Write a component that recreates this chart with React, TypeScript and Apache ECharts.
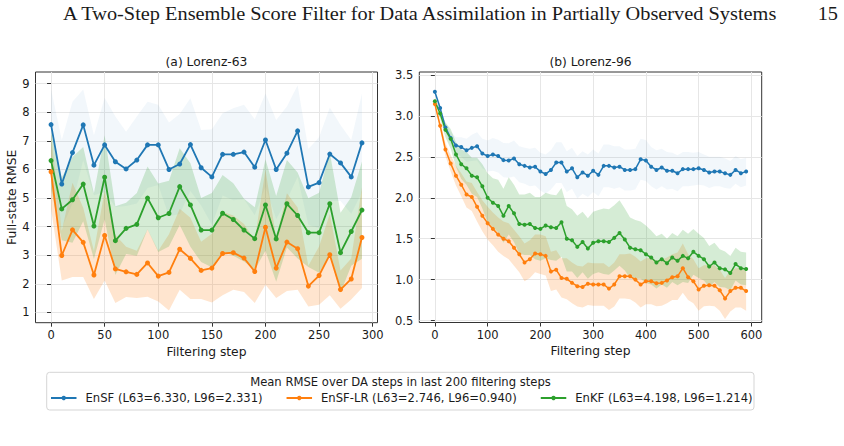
import React, { useEffect, useRef } from "react";
import * as echarts from "echarts";

// ---------- Lorenz-63 (30 filtering steps shown) ----------
const L63_STEPS = [0, 10, 20, 30, 40, 50, 60, 70, 80, 90, 100, 110, 120, 130, 140, 150, 160, 170, 180, 190, 200, 210, 220, 230, 240, 250, 260, 270, 280, 290];
const L63_ENSF = [7.57, 5.49, 6.59, 7.56, 6.15, 6.86, 6.27, 6.02, 6.33, 6.86, 6.86, 6.0, 6.19, 6.87, 6.06, 5.74, 6.53, 6.53, 6.61, 6.08, 7.03, 6.0, 6.57, 7.35, 5.39, 5.54, 6.54, 6.23, 5.74, 6.93];
const L63_ENSF_SD = [1.24, 1.54, 1.78, 1.24, 1.05, 1.65, 1.58, 1.3, 1.52, 1.51, 1.4, 1.64, 1.75, 1.62, 1.32, 1.67, 1.44, 1.61, 1.65, 1.68, 1.63, 1.73, 1.63, 1.6, 1.33, 1.59, 1.63, 1.33, 1.29, 1.73];
const L63_ENSFLR = [5.92, 2.99, 3.89, 3.45, 2.31, 3.69, 2.52, 2.42, 2.33, 2.73, 2.27, 2.4, 3.21, 2.89, 2.47, 2.55, 3.06, 3.09, 2.9, 2.43, 3.98, 2.55, 3.46, 3.23, 1.92, 2.29, 3.02, 1.8, 2.17, 3.62];
const L63_ENSFLR_SD = [1.3, 0.87, 1.65, 1.21, 0.84, 1.57, 1.19, 0.88, 0.83, 1.18, 0.89, 1.33, 1.42, 1.42, 1.0, 1.2, 1.46, 1.3, 1.19, 1.1, 2.01, 1.05, 1.71, 1.44, 0.71, 1.02, 1.42, 0.67, 0.72, 1.77];
const L63_ENKF = [6.31, 4.62, 4.94, 5.49, 4.02, 5.73, 3.51, 3.94, 4.08, 5.0, 4.31, 4.46, 5.4, 4.76, 3.88, 3.88, 4.47, 4.25, 3.88, 3.58, 4.76, 3.57, 4.8, 4.39, 3.79, 3.79, 4.8, 3.09, 3.83, 4.58];
const L63_ENKF_SD = [1.0, 1.1, 1.5, 1.3, 1.15, 1.47, 1.2, 0.9, 1.1, 1.1, 1.2, 1.15, 1.34, 1.46, 1.12, 1.3, 1.34, 1.27, 1.1, 1.1, 1.6, 1.5, 1.53, 1.5, 1.2, 1.4, 1.8, 1.4, 1.2, 1.7];

// ---------- Lorenz-96 (60 filtering steps shown) ----------
const L96_STEPS = [0, 10, 20, 30, 40, 50, 60, 70, 80, 90, 100, 110, 120, 130, 140, 150, 160, 170, 180, 190, 200, 210, 220, 230, 240, 250, 260, 270, 280, 290, 300, 310, 320, 330, 340, 350, 360, 370, 380, 390, 400, 410, 420, 430, 440, 450, 460, 470, 480, 490, 500, 510, 520, 530, 540, 550, 560, 570, 580, 590];
const L96_ENSF = [3.296, 3.096, 2.86, 2.73, 2.64, 2.62, 2.58, 2.61, 2.63, 2.54, 2.51, 2.53, 2.51, 2.46, 2.455, 2.48, 2.41, 2.39, 2.37, 2.38, 2.32, 2.29, 2.34, 2.43, 2.43, 2.32, 2.36, 2.25, 2.31, 2.27, 2.33, 2.28, 2.39, 2.39, 2.37, 2.38, 2.34, 2.34, 2.35, 2.47, 2.455, 2.38, 2.34, 2.37, 2.33, 2.33, 2.3, 2.35, 2.35, 2.35, 2.36, 2.34, 2.31, 2.32, 2.32, 2.3, 2.28, 2.34, 2.3, 2.32];
const L96_ENSF_SD = [0.02, 0.04, 0.06, 0.08, 0.1, 0.12, 0.14, 0.16, 0.17, 0.18, 0.19, 0.2, 0.2, 0.21, 0.21, 0.22, 0.22, 0.22, 0.23, 0.23, 0.23, 0.24, 0.24, 0.25, 0.25, 0.25, 0.25, 0.26, 0.26, 0.26, 0.26, 0.26, 0.26, 0.26, 0.26, 0.25, 0.25, 0.25, 0.25, 0.25, 0.25, 0.24, 0.24, 0.23, 0.23, 0.22, 0.22, 0.21, 0.21, 0.2, 0.2, 0.19, 0.19, 0.18, 0.18, 0.18, 0.17, 0.17, 0.17, 0.17];
const L96_ENSFLR = [3.145, 2.88, 2.59, 2.42, 2.27, 2.16, 2.04, 2.01, 1.89, 1.78, 1.69, 1.62, 1.55, 1.5, 1.47, 1.39, 1.31, 1.21, 1.25, 1.32, 1.31, 1.29, 1.1, 1.12, 1.02, 1.01, 0.96, 0.92, 0.91, 0.95, 0.94, 0.94, 0.94, 0.89, 0.94, 1.04, 1.04, 1.04, 1.0, 0.94, 0.98, 0.98, 0.955, 0.96, 0.99, 1.03, 1.04, 1.14, 1.03, 0.98, 0.88, 0.925, 0.93, 0.925, 0.87, 0.77, 0.86, 0.9, 0.9, 0.86];
const L96_ENSFLR_SD = [0.02, 0.05, 0.08, 0.1, 0.12, 0.14, 0.16, 0.17, 0.18, 0.19, 0.2, 0.2, 0.21, 0.21, 0.22, 0.22, 0.22, 0.23, 0.23, 0.23, 0.24, 0.24, 0.24, 0.24, 0.24, 0.25, 0.25, 0.25, 0.25, 0.26, 0.26, 0.26, 0.26, 0.26, 0.27, 0.27, 0.27, 0.28, 0.28, 0.28, 0.28, 0.28, 0.28, 0.28, 0.28, 0.28, 0.29, 0.3, 0.28, 0.27, 0.26, 0.25, 0.25, 0.25, 0.25, 0.25, 0.25, 0.24, 0.24, 0.24];
const L96_ENKF = [3.18, 3.03, 2.83, 2.72, 2.53, 2.41, 2.36, 2.27, 2.25, 2.14, 2.0, 1.94, 1.9, 1.78, 1.9, 1.81, 1.68, 1.67, 1.68, 1.63, 1.62, 1.66, 1.64, 1.63, 1.7, 1.5, 1.48, 1.4, 1.46, 1.38, 1.45, 1.47, 1.47, 1.46, 1.51, 1.57, 1.49, 1.39, 1.37, 1.36, 1.31, 1.27, 1.21, 1.25, 1.2, 1.27, 1.23, 1.29, 1.26, 1.34, 1.29, 1.25, 1.16, 1.21, 1.14, 1.125, 1.08, 1.19, 1.14, 1.13];
const L96_ENKF_SD = [0.03, 0.06, 0.09, 0.12, 0.15, 0.18, 0.2, 0.22, 0.24, 0.27, 0.3, 0.3, 0.32, 0.33, 0.35, 0.35, 0.36, 0.37, 0.38, 0.38, 0.39, 0.4, 0.4, 0.4, 0.42, 0.4, 0.38, 0.38, 0.37, 0.37, 0.38, 0.38, 0.4, 0.4, 0.4, 0.4, 0.38, 0.37, 0.36, 0.35, 0.35, 0.33, 0.32, 0.31, 0.3, 0.3, 0.3, 0.32, 0.3, 0.28, 0.27, 0.26, 0.25, 0.24, 0.23, 0.22, 0.21, 0.2, 0.2, 0.2];

// ---------- ticks, labels ----------
const L63_X_TICKS = [0, 50, 100, 150, 200, 250, 300];
const L63_Y_TICKS = [1, 2, 3, 4, 5, 6, 7, 8, 9];
const L96_X_TICKS = [0, 100, 200, 300, 400, 500, 600];
const L96_Y_TICKS = [0.5, 1.0, 1.5, 2.0, 2.5, 3.0, 3.5];

const METHOD_NAMES = [
  "EnSF (L63=6.330, L96=2.331)",
  "EnSF-LR (L63=2.746, L96=0.940)",
  "EnKF (L63=4.198, L96=1.214)",
];
const METHOD_COLORS = ["#1f77b4", "#ff7f0e", "#2ca02c"];
const BAND_ALPHA = [0.06, 0.2, 0.2];

const PAGE_TITLE = "A Two-Step Ensemble Score Filter for Data Assimilation in Partially Observed Systems";
const PAGE_NUMBER = "15";
const LEGEND_TITLE = "Mean RMSE over DA steps in last 200 filtering steps";

const SANS = "DejaVu Sans";

function rgba(hex: string, a: number) {
  const n = parseInt(hex.slice(1), 16);
  return `rgba(${(n >> 16) & 255},${(n >> 8) & 255},${n & 255},${a})`;
}

type Panel = {
  idx: number;
  steps: number[];
  means: number[][];
  sds: number[][];
  symbolSize: number;
  lineWidth: number;
};

// mean ± spread band, drawn as one polygon through the axis scales
function bandSeries(p: Panel, m: number) {
  const mean = p.means[m];
  const sd = p.sds[m];
  const fill = rgba(METHOD_COLORS[m], BAND_ALPHA[m]);
  return {
    type: "custom",
    xAxisIndex: p.idx,
    yAxisIndex: p.idx,
    silent: true,
    clip: true,
    z: 1,
    data: p.steps.map((s, i) => [s, mean[i] - sd[i], mean[i] + sd[i]]),
    encode: { x: 0, y: [1, 2] },
    renderItem: (params: any, api: any) => {
      if (params.dataIndex !== 0) return null;
      const upper = p.steps.map((s, i) => api.coord([s, mean[i] + sd[i]]));
      const lower = p.steps.map((s, i) => api.coord([s, mean[i] - sd[i]])).reverse();
      return {
        type: "polygon",
        shape: { points: [...upper, ...lower] },
        style: { fill, stroke: "none" },
      };
    },
  };
}

function panelSeries(p: Panel) {
  const bands: any[] = [];
  const lines: any[] = [];
  p.means.forEach((mean, m) => {
    bands.push(bandSeries(p, m));
    lines.push({
      type: "line",
      name: METHOD_NAMES[m],
      xAxisIndex: p.idx,
      yAxisIndex: p.idx,
      data: p.steps.map((s, i) => [s, mean[i]]),
      symbol: "circle",
      symbolSize: p.symbolSize,
      showSymbol: true,
      color: METHOD_COLORS[m],
      lineStyle: { width: p.lineWidth, color: METHOD_COLORS[m] },
      itemStyle: { color: METHOD_COLORS[m] },
      z: 3,
    });
  });
  return [...bands, ...lines];
}

function valueAxis(
  gridIndex: number,
  min: number,
  max: number,
  ticks: number[],
  fmt: (v: number) => string,
  extra: any
) {
  return {
    type: "value",
    gridIndex,
    min,
    max,
    axisLine: { show: false },
    axisTick: {
      show: true,
      length: 4,
      customValues: ticks,
      lineStyle: { color: "#333", width: 1 },
    },
    axisLabel: {
      customValues: ticks,
      formatter: fmt,
      color: "#1a1a1a",
      fontFamily: SANS,
      fontSize: 11.5,
      margin: 6,
    },
    splitLine: { show: true, lineStyle: { color: "#e6e6e6", width: 1 } },
    nameTextStyle: { fontFamily: SANS, fontSize: 12.3, color: "#1a1a1a" },
    ...extra,
  };
}

export default function App() {
  const ref = useRef<HTMLDivElement>(null);

  useEffect(() => {
    if (!ref.current) return;
    const chart = echarts.init(ref.current, undefined, { renderer: "svg" });

    const left: Panel = {
      idx: 0,
      steps: L63_STEPS,
      means: [L63_ENSF, L63_ENSFLR, L63_ENKF],
      sds: [L63_ENSF_SD, L63_ENSFLR_SD, L63_ENKF_SD],
      symbolSize: 5,
      lineWidth: 1.8,
    };
    const right: Panel = {
      idx: 1,
      steps: L96_STEPS,
      means: [L96_ENSF, L96_ENSFLR, L96_ENKF],
      sds: [L96_ENSF_SD, L96_ENSFLR_SD, L96_ENKF_SD],
      symbolSize: 4,
      lineWidth: 1.5,
    };

    const gridBase = { show: true, borderColor: "#333", borderWidth: 1, backgroundColor: "transparent", containLabel: false };

    chart.setOption({
      animation: false,
      backgroundColor: "#ffffff",
      title: [
        {
          text: "(a) Lorenz-63",
          left: 206.5,
          top: 56,
          textAlign: "center",
          padding: 0,
          textStyle: { fontFamily: SANS, fontSize: 12.3, fontWeight: "normal", color: "#1a1a1a" },
        },
        {
          text: "(b) Lorenz-96",
          left: 590.5,
          top: 56,
          textAlign: "center",
          padding: 0,
          textStyle: { fontFamily: SANS, fontSize: 12.3, fontWeight: "normal", color: "#1a1a1a" },
        },
      ],
      grid: [
        { ...gridBase, left: 35.5, top: 72, width: 342, height: 250.7 },
        { ...gridBase, left: 419.3, top: 72, width: 342.4, height: 250.5 },
      ],
      xAxis: [
        valueAxis(0, -14.5, 304.5, L63_X_TICKS, (v) => String(v), {
          name: "Filtering step",
          nameLocation: "middle",
          nameGap: 21,
        }),
        valueAxis(1, -29.5, 619.5, L96_X_TICKS, (v) => String(v), {
          name: "Filtering step",
          nameLocation: "middle",
          nameGap: 21,
        }),
      ],
      yAxis: [
        valueAxis(0, 0.64, 9.41, L63_Y_TICKS, (v) => String(v), {
          name: "Full-state RMSE",
          nameLocation: "middle",
          nameRotate: 90,
          nameGap: 17,
        }),
        valueAxis(1, 0.476, 3.537, L96_Y_TICKS, (v) => v.toFixed(1), {}),
      ],
      legend: {
        data: METHOD_NAMES,
        left: 50,
        top: 392,
        padding: 0,
        itemWidth: 25.5,
        itemHeight: 5.5,
        itemGap: 23,
        selectedMode: false,
        textStyle: { fontFamily: SANS, fontSize: 11.6, color: "#1a1a1a", padding: [0, 0, 0, 4] },
      },
      graphic: [
        {
          type: "text",
          x: 63,
          y: 14,
          scaleX: 1.13,
          style: {
            text: PAGE_TITLE,
            font: "18px 'Liberation Serif'",
            fill: "#1a1a1a",
            verticalAlign: "middle",
          },
        },
        {
          type: "text",
          x: 838,
          y: 14,
          scaleX: 1.13,
          style: {
            text: PAGE_NUMBER,
            font: "18px 'Liberation Serif'",
            fill: "#1a1a1a",
            align: "right",
            verticalAlign: "middle",
          },
        },
        {
          type: "rect",
          z: -1,
          shape: { x: 46.7, y: 372.3, width: 707.3, height: 37.7, r: 3 },
          style: { fill: "#ffffff", stroke: "#d5d5d5", lineWidth: 1 },
        },
        {
          type: "text",
          x: 400.5,
          y: 382,
          style: {
            text: LEGEND_TITLE,
            font: `11.6px '${SANS}'`,
            fill: "#1a1a1a",
            align: "center",
            verticalAlign: "middle",
          },
        },
      ],
      series: [...panelSeries(left), ...panelSeries(right)],
    });

    return () => chart.dispose();
  }, []);

  return (
    <div
      ref={ref}
      style={{ position: "fixed", left: 0, top: 0, width: 844, height: 446 }}
    />
  );
}
